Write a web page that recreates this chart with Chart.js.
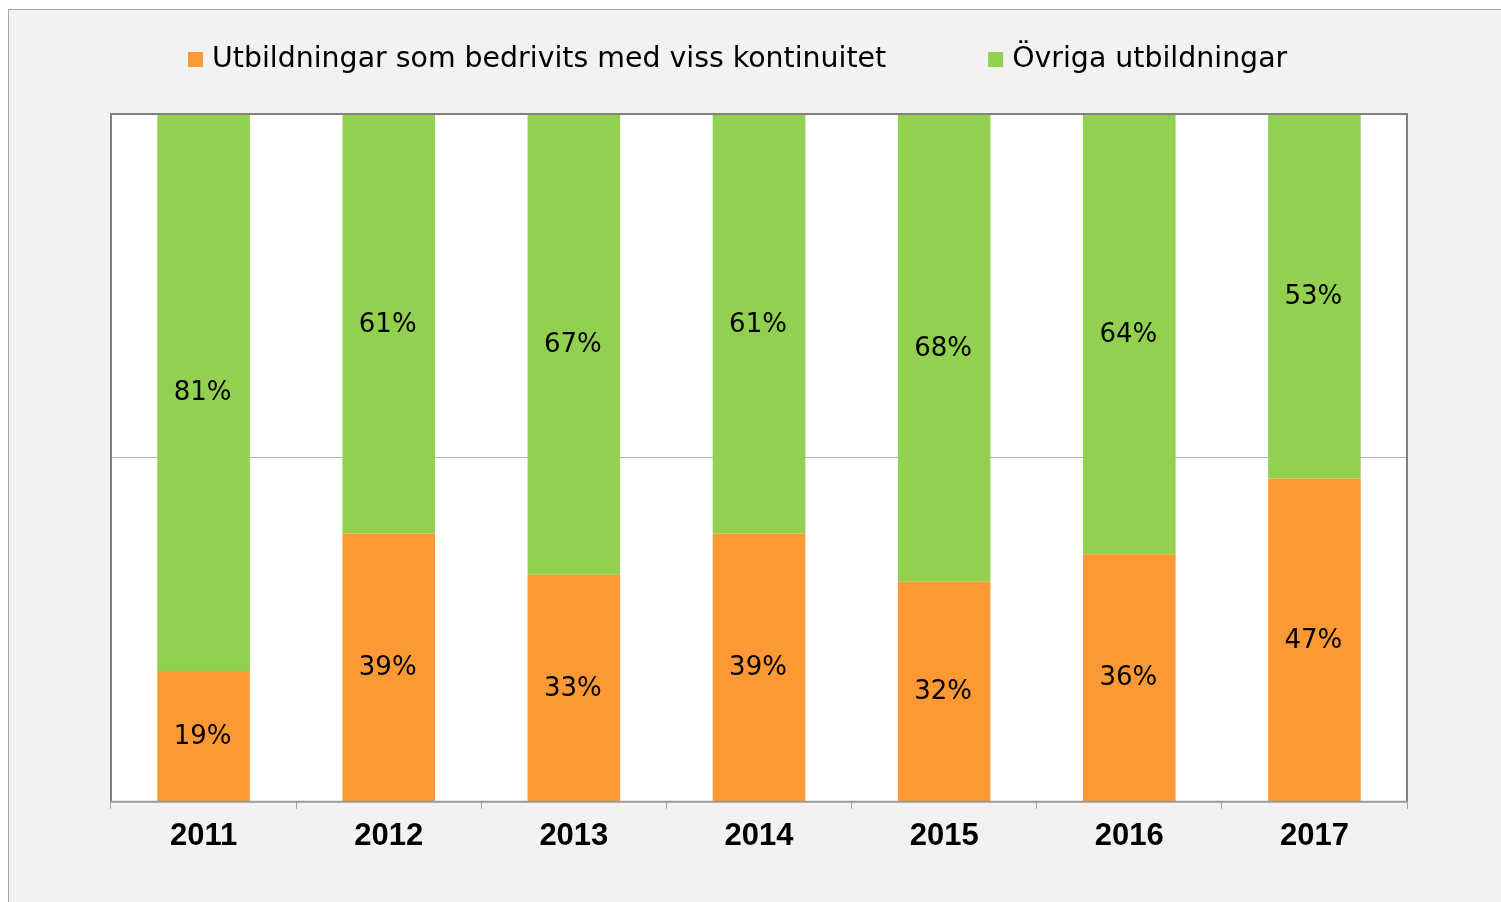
<!DOCTYPE html>
<html lang="sv">
<head>
<meta charset="utf-8">
<title>Utbildningar 2011–2017</title>
<script src="https://cdn.jsdelivr.net/npm/chart.js@4.4.1/dist/chart.umd.min.js"></script>
<style>
    html, body { margin: 0; padding: 0; background: #ffffff; }
    #frame {
        position: absolute;
        left: 8px;
        top: 9px;
        width: 1493px;
        height: 893px;
        box-sizing: border-box;
        border-left: 1px solid #a6a6a6;
        border-top: 1px solid #a6a6a6;
        background: #f2f2f2;
    }
    #chart { display: block; }
</style>
</head>
<body>
<div id="frame"><canvas id="chart" width="1492" height="892"></canvas></div>
<script>
// Chart data (shares in percent)
const years = ['2011', '2012', '2013', '2014', '2015', '2016', '2017'];
const continuityShare = [19, 39, 33, 39, 32, 36, 47];
const otherShare = [81, 61, 67, 61, 68, 64, 53];
const seriesLabels = ['Utbildningar som bedrivits med viss kontinuitet', 'Övriga utbildningar'];
const seriesColors = ['#fd9934', '#92d050'];

// White background for the plot area only
const plotBackground = {
    id: 'plotBackground',
    beforeDraw(chart) {
        const { ctx, chartArea } = chart;
        ctx.save();
        ctx.fillStyle = '#ffffff';
        ctx.fillRect(chartArea.left, chartArea.top, chartArea.width, chartArea.height);
        ctx.restore();
    }
};

// Draws the percentage in the middle of every bar segment
const valueLabels = {
    id: 'valueLabels',
    afterDatasetsDraw(chart) {
        const ctx = chart.ctx;
        ctx.save();
        ctx.font = '26px "DejaVu Sans"';
        ctx.fillStyle = '#000000';
        ctx.textAlign = 'center';
        ctx.textBaseline = 'middle';
        chart.data.datasets.forEach((dataset, i) => {
            const meta = chart.getDatasetMeta(i);
            meta.data.forEach((bar, j) => {
                const y = (bar.y + bar.base) / 2;
                ctx.fillText(dataset.data[j] + '%', bar.x - 1, y + 1);
            });
        });
        ctx.restore();
    }
};

// Frame round the plot area (left, top, right dark, bottom lighter)
const plotFrame = {
    id: 'plotFrame',
    afterDatasetsDraw(chart) {
        const { ctx, chartArea } = chart;
        const { left, top, right, bottom } = chartArea;
        ctx.save();
        ctx.lineWidth = 2;
        ctx.strokeStyle = '#808080';
        ctx.beginPath();
        ctx.moveTo(left, bottom);
        ctx.lineTo(left, top);
        ctx.lineTo(right, top);
        ctx.lineTo(right, bottom);
        ctx.stroke();
        ctx.strokeStyle = '#9a9a9a';
        ctx.beginPath();
        ctx.moveTo(left - 1, bottom);
        ctx.lineTo(right + 1, bottom);
        ctx.stroke();
        ctx.restore();
    }
};

// Legend row above the plot, laid out like the original
const topLegend = {
    id: 'topLegend',
    afterDraw(chart) {
        const ctx = chart.ctx;
        const boxSize = 15;
        const textGap = 9;
        const itemGap = 102;
        const baseline = 57;
        let x = 179;
        ctx.save();
        ctx.font = '28.4px "DejaVu Sans"';
        ctx.textAlign = 'left';
        ctx.textBaseline = 'alphabetic';
        chart.data.datasets.forEach((dataset) => {
            ctx.fillStyle = dataset.backgroundColor;
            ctx.fillRect(x, baseline - 15, boxSize, boxSize);
            ctx.fillStyle = '#000000';
            const textX = x + boxSize + textGap;
            ctx.fillText(dataset.label, textX, baseline);
            x = textX + ctx.measureText(dataset.label).width + itemGap;
        });
        ctx.restore();
    }
};

function createChart() {
    const ctx = document.getElementById('chart').getContext('2d');

    window.myChart = new Chart(ctx, {
        type: 'bar',
        data: {
            labels: years,
            datasets: [
                {
                    label: seriesLabels[0],
                    data: continuityShare,
                    backgroundColor: seriesColors[0],
                    barPercentage: 0.5,
                    categoryPercentage: 1.0
                },
                {
                    label: seriesLabels[1],
                    data: otherShare,
                    backgroundColor: seriesColors[1],
                    barPercentage: 0.5,
                    categoryPercentage: 1.0
                }
            ]
        },
        options: {
            responsive: false,
            devicePixelRatio: 1,
            animation: false,
            layout: {
                padding: { left: 102, right: 94, top: 104, bottom: 38 }
            },
            scales: {
                x: {
                    stacked: true,
                    border: { display: false },
                    grid: {
                        offset: true,
                        drawOnChartArea: false,
                        drawTicks: true,
                        tickLength: 7,
                        color: '#a0a0a0'
                    },
                    ticks: {
                        color: '#000000',
                        padding: 9,
                        font: { family: '"Liberation Sans", Arial, sans-serif', size: 31, weight: 'bold' }
                    }
                },
                y: {
                    stacked: true,
                    min: 0,
                    max: 100,
                    border: { display: false },
                    ticks: { display: false, stepSize: 50 },
                    grid: {
                        drawTicks: false,
                        color: (c) => (c.tick && c.tick.value === 50 ? '#b4b4b4' : 'rgba(0,0,0,0)')
                    },
                    afterFit: (scale) => { scale.width = 0; }
                }
            },
            plugins: {
                legend: { display: false },
                tooltip: { enabled: false }
            }
        },
        plugins: [plotBackground, valueLabels, plotFrame, topLegend]
    });
}

window.addEventListener('DOMContentLoaded', createChart);
</script>
</body>
</html>
